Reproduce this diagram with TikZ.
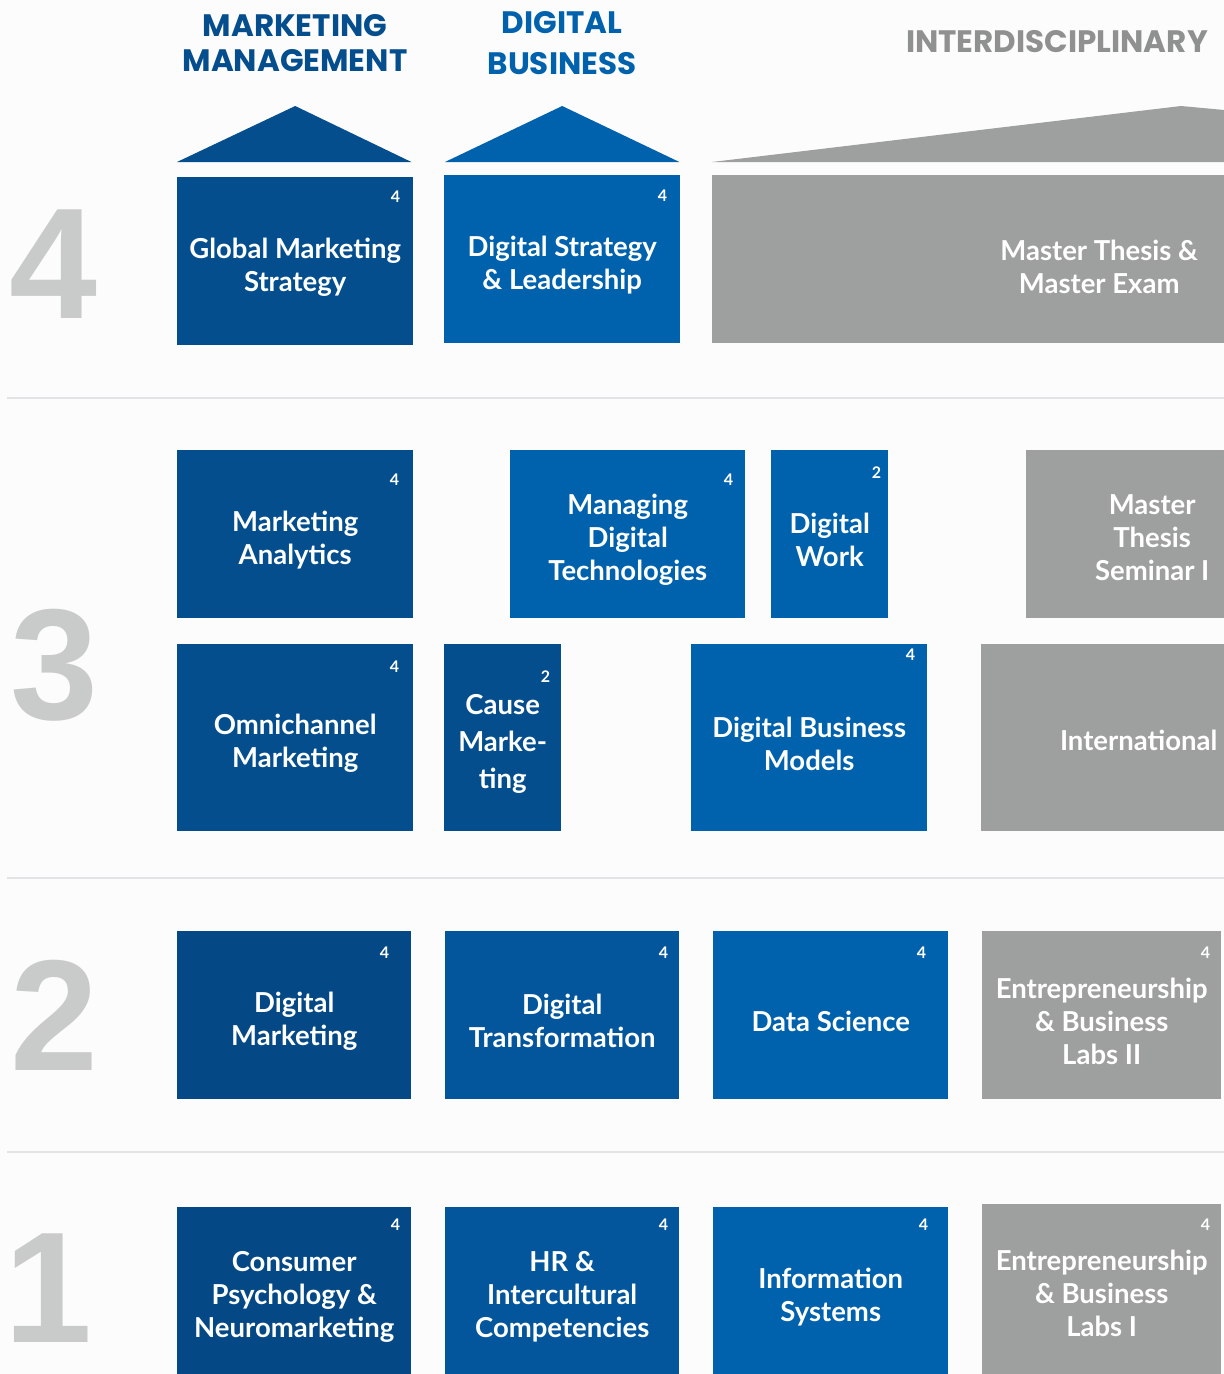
\documentclass[tikz,border=0pt]{standalone}
\usepackage{fontspec}
\setmainfont{Lato}
\newfontfamily\yearfamily{Liberation Sans}
\newfontfamily\headfamily{Poppins}
\usetikzlibrary{positioning}
\definecolor{paper}{RGB}{252,252,253}
\definecolor{mmblue}{RGB}{4,78,142}
\definecolor{mmdark}{RGB}{4,73,133}
\definecolor{midblue}{RGB}{3,86,156}
\definecolor{dbblue}{RGB}{0,98,173}
\definecolor{igray}{RGB}{158,159,159}
\definecolor{headgray}{RGB}{143,145,145}
\definecolor{yeargray}{RGB}{201,202,202}
\definecolor{rulegray}{RGB}{226,227,229}
\newcommand\coursefont{\bfseries\fontsize{27.5}{33}\selectfont}
\newcommand\creditfont{\bfseries\fontsize{16}{16}\selectfont}
\newcommand\yearfont{\yearfamily\bfseries\fontsize{158}{158}\selectfont}
\newcommand\headfont{\headfamily\bfseries\fontsize{31}{35}\selectfont}
\tikzstyle{course} = [rectangle,
                     anchor=north west,
                     inner sep=0pt]
\tikzstyle{ctext} = [inner sep=0pt,
                    align=center,
                    text=white,
                    font=\coursefont,
                    yshift=-6pt]
\tikzstyle{wide} = [minimum width=236pt]
\tikzstyle{narrow} = [minimum width=117pt]
\tikzstyle{tall} = [minimum height=168pt]
\tikzstyle{taller} = [minimum height=187pt]
\tikzstyle{credit} = [inner sep=0pt, text=white, font=\creditfont]
\tikzstyle{year} = [anchor=base west, inner sep=0pt, text=yeargray, font=\yearfont]
\tikzstyle{head} = [inner sep=0pt, align=center, font=\headfont]
\begin{document}
\begin{tikzpicture}[x=1pt, y=-1pt]
  \useasboundingbox[fill=paper] (0,0) rectangle (1224,1374);
  \foreach \y in {398,878,1152}
    \draw[line width=2.5pt, rulegray] (7,\y) -- (1224,\y);

  % year numbers
  \node (y4) [year] at (9,318) {4};
  \node (y3) [year] at (10,719) {3};
  \node (y2) [year] at (10,1070) {2};
  \node (y1) [year] at (4,1342) {1};

  % headings
  \node (hmm) [head, text=mmblue] at (295,43) {MARKETING\\MANAGEMENT};
  \node (hdb) [head, text=dbblue, font=\headfamily\bfseries\fontsize{31}{41}\selectfont] at (562,43) {DIGITAL\\BUSINESS};
  \node (hid) [head, text=headgray, anchor=east] at (1208,42) {INTERDISCIPLINARY};

  % year 4
  \node (gms) [course, wide, tall, fill=mmblue, label={[ctext]center:{Global Marketing\\Strategy}}] at (177,177) {};
  \node (dsl) [course, wide, tall, fill=dbblue, label={[ctext]center:{Digital Strategy\\\& Leadership}}] at (444,175) {};
  \node (mte) [course, minimum width=512pt, tall, fill=igray, label={[ctext, xshift=131pt, yshift=-2pt]center:{Master Thesis \&\\Master Exam}}] at (712,175) {};
  \fill[mmblue] ([yshift=15pt]gms.north west) -- ([yshift=71pt]gms.north) -- ([xshift=-2pt,yshift=15pt]gms.north east) -- cycle;
  \fill[dbblue] ([xshift=1pt,yshift=13pt]dsl.north west) -- ([yshift=69pt]dsl.north) -- ([xshift=-1pt,yshift=13pt]dsl.north east) -- cycle;
  \fill[igray] ([yshift=13pt]mte.north west) -- ([xshift=469pt,yshift=69pt]mte.north west) -- ([yshift=65pt]mte.north east) -- ([yshift=13pt]mte.north east) -- cycle;

  % year 3
  \node (ma) [course, wide, tall, fill=mmblue, label={[ctext]center:{Marketing\\Analytics}}] at (177,450) {};
  \node (mdt) [course, minimum width=235pt, tall, fill=dbblue, label={[ctext]center:{Managing\\Digital\\Technologies}}] at (510,450) {};
  \node (dw) [course, narrow, tall, fill=dbblue, label={[ctext]center:{Digital\\Work}}] at (771,450) {};
  \node (mts) [course, minimum width=198pt, tall, fill=igray, label={[ctext, xshift=27pt, yshift=3pt]center:{Master\\Thesis\\Seminar I}}] at (1026,450) {};
  \node (om) [course, wide, taller, fill=mmblue, label={[ctext]center:{Omnichannel\\Marketing}}] at (177,644) {};
  \node (cm) [course, narrow, taller, fill=mmblue, label={[ctext]center:{Cause\\[4pt]Marke-\\[4pt]ting}}] at (444,644) {};
  \node (dbm) [course, wide, taller, fill=dbblue, label={[ctext]center:{Digital Business\\Models}}] at (691,644) {};
  \node (int) [course, minimum width=243pt, taller, fill=igray, label={[ctext, xshift=36pt, yshift=3pt]center:International}] at (981,644) {};

  % year 2
  \node (dm) [course, minimum width=234pt, tall, fill=mmdark, label={[ctext]center:{Digital\\Marketing}}] at (177,931) {};
  \node (dt) [course, minimum width=234pt, tall, fill=midblue, label={[ctext]center:{Digital\\Transformation}}] at (445,931) {};
  \node (ds) [course, minimum width=235pt, tall, fill=dbblue, label={[ctext]center:Data Science}] at (713,931) {};
  \node (eb2) [course, minimum width=239pt, tall, fill=igray, label={[ctext]center:{Entrepreneurship\\\& Business\\Labs II}}] at (982,931) {};

  % year 1
  \node (cpn) [course, minimum width=234pt, minimum height=167pt, fill=mmdark, label={[ctext]center:{Consumer\\Psychology \&\\Neuromarketing}}] at (177,1207) {};
  \node (hr) [course, minimum width=234pt, minimum height=167pt, fill=midblue, label={[ctext]center:{HR \&\\Intercultural\\Competencies}}] at (445,1207) {};
  \node (is) [course, minimum width=235pt, minimum height=167pt, fill=dbblue, label={[ctext]center:{Information\\Systems}}] at (713,1207) {};
  \node (eb1) [course, minimum width=239pt, minimum height=170pt, fill=igray, label={[ctext, yshift=2pt]center:{Entrepreneurship\\\& Business\\Labs I}}] at (982,1204) {};

  % credits
  \node (gmsc) [credit] at ([xshift=-18pt,yshift=-20pt]gms.north east) {4};
  \node (dslc) [credit] at ([xshift=-18pt,yshift=-21pt]dsl.north east) {4};
  \node (mac) [credit] at ([xshift=-19pt,yshift=-30pt]ma.north east) {4};
  \node (mdtc) [credit] at ([xshift=-17pt,yshift=-30pt]mdt.north east) {4};
  \node (dwc) [credit] at ([xshift=-12pt,yshift=-23pt]dw.north east) {2};
  \node (omc) [credit] at ([xshift=-19pt,yshift=-23pt]om.north east) {4};
  \node (cmc) [credit] at ([xshift=-16pt,yshift=-33pt]cm.north east) {2};
  \node (dbmc) [credit] at ([xshift=-17pt,yshift=-11pt]dbm.north east) {4};
  \node (dmc) [credit] at ([xshift=-27pt,yshift=-22pt]dm.north east) {4};
  \node (dtc) [credit] at ([xshift=-16pt,yshift=-22pt]dt.north east) {4};
  \node (dsc) [credit] at ([xshift=-27pt,yshift=-22pt]ds.north east) {4};
  \node (eb2c) [credit] at ([xshift=-16pt,yshift=-22pt]eb2.north east) {4};
  \node (cpnc) [credit] at ([xshift=-16pt,yshift=-18pt]cpn.north east) {4};
  \node (hrc) [credit] at ([xshift=-16pt,yshift=-18pt]hr.north east) {4};
  \node (isc) [credit] at ([xshift=-25pt,yshift=-18pt]is.north east) {4};
  \node (eb1c) [credit] at ([xshift=-16pt,yshift=-21pt]eb1.north east) {4};
\end{tikzpicture}
\end{document}
